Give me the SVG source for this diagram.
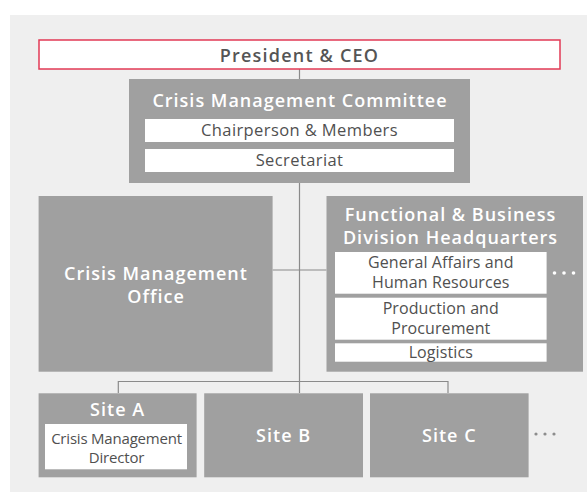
<svg xmlns="http://www.w3.org/2000/svg" width="587" height="493" viewBox="0 0 587 493">
<style>
.box{fill:#a0a0a0}
.wb{fill:#ffffff}
.t{font-family:"Open Sans","Noto Sans","DejaVu Sans",sans-serif;text-anchor:middle}
.h{fill:#ffffff;font-weight:600;font-size:18px;letter-spacing:1px}
.w{fill:#505050;font-size:16.5px;letter-spacing:0.4px}
.w2{fill:#505050;font-size:16px;letter-spacing:0.1px}
.w3{fill:#505050;font-size:15px;letter-spacing:-0.2px}
.ln{stroke:#8a8a8a;stroke-width:1.2;fill:none}
.dot{fill:#ffffff}
.gdot{fill:#8c8c8c}
</style>
<rect x="10" y="15" width="577" height="477" fill="#efefef"/>
<g id="connectors">
<line class="ln" x1="299.5" y1="69" x2="299.5" y2="393"/>
<line class="ln" x1="272.6" y1="270" x2="326.5" y2="270"/>
<polyline class="ln" points="118.3,393 118.3,381.5 448,381.5 448,393"/>
</g>
<g id="president">
<rect x="39" y="40" width="521" height="29" fill="#ffffff" stroke="#e23a55" stroke-width="1.5"/>
<text class="t" x="299.5" y="61.5" fill="#555555" font-size="18" font-weight="600" letter-spacing="1.2">President &amp; CEO</text>
</g>
<g id="committee">
<rect class="box" x="129" y="79" width="341" height="104"/>
<text class="t h" x="300" y="106.5">Crisis Management Committee</text>
<rect class="wb" x="145" y="119" width="309" height="23"/>
<text class="t w" x="299.5" y="136">Chairperson &amp; Members</text>
<rect class="wb" x="145" y="149" width="309" height="23"/>
<text class="t w" x="299.5" y="165.5">Secretariat</text>
</g>
<g id="cmo">
<rect class="box" x="38.6" y="196" width="234" height="175.7"/>
<text class="t h"><tspan x="156" y="279.5">Crisis Management</tspan><tspan x="156" y="302.5">Office</tspan></text>
</g>
<g id="hq">
<rect class="box" x="326.5" y="196" width="256.5" height="175.7"/>
<text class="t h"><tspan x="450.5" y="221">Functional &amp; Business</tspan><tspan x="450.5" y="244">Division Headquarters</tspan></text>
<rect class="wb" x="335" y="252" width="211.6" height="41.7"/>
<text class="t w2"><tspan x="440.8" y="268.3">General Affairs and</tspan><tspan x="440.8" y="288.3">Human Resources</tspan></text>
<rect class="wb" x="335" y="297.7" width="211.6" height="42"/>
<text class="t w2"><tspan x="440.8" y="313.6">Production and</tspan><tspan x="440.8" y="333.8">Procurement</tspan></text>
<rect class="wb" x="335" y="343.3" width="211.6" height="18.4"/>
<text class="t w2" x="440.8" y="358.3">Logistics</text>
<circle class="dot" cx="554.5" cy="273" r="1.8"/>
<circle class="dot" cx="564" cy="273" r="1.8"/>
<circle class="dot" cx="573.5" cy="273" r="1.8"/>
</g>
<g id="siteA">
<rect class="box" x="38.6" y="393.3" width="158" height="84"/>
<text class="t h" x="117.6" y="415.7">Site A</text>
<rect class="wb" x="45" y="424" width="142" height="45.3"/>
<text class="t w3"><tspan x="116.5" y="444.3">Crisis Management</tspan><tspan x="116.5" y="463.3">Director</tspan></text>
</g>
<g id="siteB">
<rect class="box" x="204.2" y="393.3" width="158.8" height="84"/>
<text class="t h" x="283.6" y="441.7">Site B</text>
</g>
<g id="siteC">
<rect class="box" x="370" y="393.3" width="158.6" height="84"/>
<text class="t h" x="449.3" y="441.7">Site C</text>
</g>
<g id="more-sites">
<circle class="gdot" cx="536" cy="434" r="1.6"/>
<circle class="gdot" cx="545" cy="434" r="1.6"/>
<circle class="gdot" cx="554" cy="434" r="1.6"/>
</g>
</svg>
